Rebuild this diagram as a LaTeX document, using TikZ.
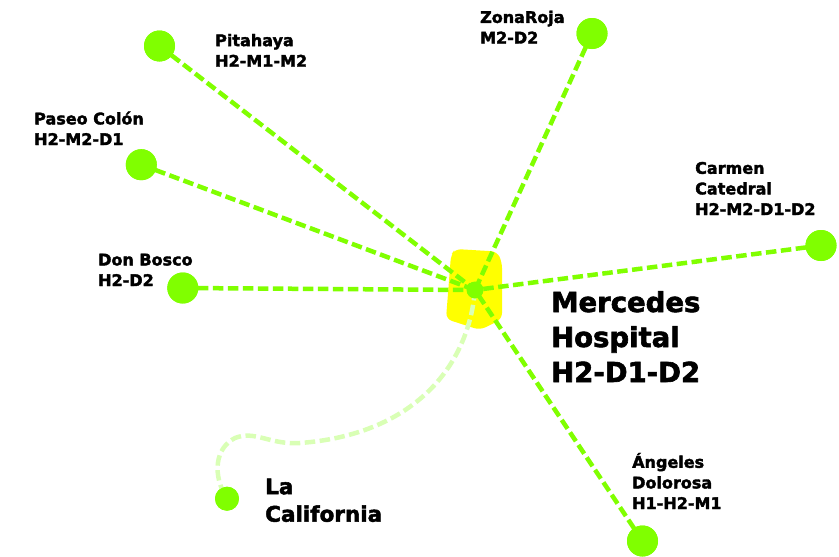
\documentclass[tikz,border=0pt]{standalone}
\usepackage{fontspec}
\setmainfont{DejaVu Sans}[BoldFeatures={FakeBold=2.2}]
\definecolor{lime}{HTML}{80FF00}
\definecolor{palelime}{HTML}{D9FFB5}
\definecolor{hospyellow}{HTML}{FFFF00}
\begin{document}
\begin{tikzpicture}[x=1pt,y=-1pt,
  place/.style={circle,fill=lime,inner sep=0pt,minimum size=31pt},
  hub/.style={circle,fill=lime,inner sep=0pt,minimum size=17pt},
  smallplace/.style={circle,fill=lime,inner sep=0pt,minimum size=24pt},
  route/.style={draw=lime,line width=4.5pt,dash pattern=on 10.5pt off 4.5pt},
  paleroute/.style={draw=palelime,line width=4.5pt,dash pattern=on 10.5pt off 4.5pt},
  lbl/.style={anchor=base west,inner sep=0pt,align=left,font=\bfseries\fontsize{16}{20.6}\selectfont},
  biglbl/.style={anchor=base west,inner sep=0pt,align=left,font=\bfseries\fontsize{27.5}{35}\selectfont},
  midlbl/.style={anchor=base west,inner sep=0pt,align=left,font=\bfseries\fontsize{21.5}{27.5}\selectfont}]
\useasboundingbox (0,0) rectangle (839,557);
% hospital block
\fill[hospyellow,rounded corners=6pt] (455,249) -- (497,251.5) -- (502,262) -- (502,319) -- (480,330) -- (446,319) -- (451,255) -- cycle;
% nodes
\coordinate (hubc) at (475,290);
\node[place] (pit) at (159.5,46) {};
\node[place] (zona) at (592,33.5) {};
\node[place] (paseo) at (141.3,164.7) {};
\node[place] (carmen) at (821,245.5) {};
\node[place] (bosco) at (182.8,288) {};
\node[place] (angeles) at (642.5,541) {};
\node[smallplace] (calif) at (227,498.7) {};
% connectors
\draw[route] (pit.center) -- (hubc);
\draw[route] (zona.center) -- (hubc);
\draw[route] (paseo.center) -- (hubc);
\draw[route] (carmen.center) -- (hubc);
\draw[route] (bosco.center) -- (hubc);
\draw[route] (angeles.center) -- (hubc);
\draw[paleroute] (hubc) .. controls (468,370) and (410,435) .. (300,443)
  .. controls (270,445) and (255,430) .. (235,438)
  .. controls (215,448) and (212,475) .. (calif.center);
% redraw circles on top
\node[place] at (pit) {};
\node[place] at (zona) {};
\node[place] at (paseo) {};
\node[place] at (carmen) {};
\node[place] at (bosco) {};
\node[place] at (angeles) {};
\node[smallplace] at (calif) {};
\node[hub] (hub) at (hubc) {};
% labels (anchored at the baseline of the last line)
\node[lbl] (tpit) at (215,66.7) {Pitahaya\\H2-M1-M2};
\node[lbl] (tzona) at (480,43.5) {ZonaRoja\\M2-D2};
\node[lbl] (tpaseo) at (34,145) {Paseo Colón\\H2-M2-D1};
\node[lbl] (tcarmen) at (695,215) {Carmen\\Catedral\\H2-M2-D1-D2};
\node[lbl] (tbosco) at (98,286) {Don Bosco\\H2-D2};
\node[lbl] (tangeles) at (632,509) {Ángeles\\Dolorosa\\H1-H2-M1};
\node[biglbl] (thosp) at (551,382) {Mercedes\\Hospital\\H2-D1-D2};
\node[midlbl] (tcalif) at (265,521.7) {La\\California};
\end{tikzpicture}
\end{document}
